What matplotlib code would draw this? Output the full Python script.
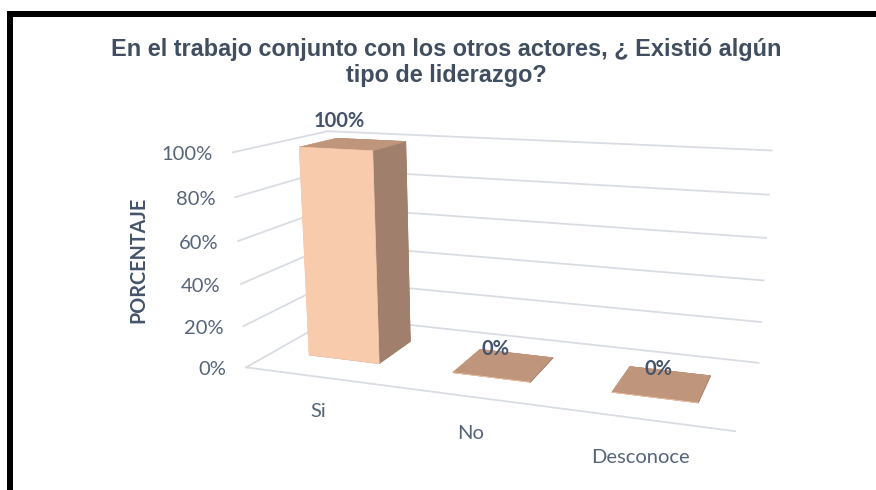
import numpy as np
import matplotlib
matplotlib.use("Agg")
import matplotlib.pyplot as plt
from matplotlib.patches import Rectangle
from mpl_toolkits.mplot3d import proj3d

# ---------------- data ----------------
categories = ["Si", "No", "Desconoce"]
values = [100, 0, 0]
value_labels = ["100%", "0%", "0%"]
y_ticks = [0, 20, 40, 60, 80, 100]
y_tick_labels = ["0%", "20%", "40%", "60%", "80%", "100%"]
title = "En el trabajo conjunto con los otros actores, ¿ Existió algún\ntipo de liderazgo?"
y_label = "PORCENTAJE"

# ---------------- style ----------------
plt.rcParams["font.family"] = ["Lato", "DejaVu Sans"]
W, H = 876, 490
c_front = "#F8CBAD"
c_top = "#BF957C"
c_side = "#A0806C"
grid_c = "#D9DDE3"
tick_c = "#56647A"
dark_c = "#44546A"

fig = plt.figure(figsize=(W / 100, H / 100), dpi=100)
fig.patch.set_facecolor("white")

# black frame (top and left edges)
fig.add_artist(Rectangle((7 / W, (H - 17) / H), (W - 7) / W, 6 / H,
                         transform=fig.transFigure, color="black", lw=0))
fig.add_artist(Rectangle((7 / W, 0), 6 / W, (H - 11) / H,
                         transform=fig.transFigure, color="black", lw=0))

fig.text(446 / W, 1 - 62.5 / H, title, ha="center", va="center",
         fontsize=16.9, fontweight="bold", color="#404E5F",
         family=["Liberation Sans", "DejaVu Sans"], linespacing=1.2)
fig.text(138.5 / W, 1 - 259.5 / H, y_label, rotation=90, ha="center",
         va="center", fontsize=14.2, fontweight="bold", color=dark_c)

# ---------------- 3D axes ----------------
n = len(categories)
depth = 1.15
ax = fig.add_axes([0, 0, 1, 1], projection="3d")
ax.view_init(elev=13.75, azim=-70.55)
ax.set_proj_type("persp", focal_length=0.345)
ax.set_xlim(0, n)
ax.set_ylim(0, depth)
ax.set_zlim(0, max(y_ticks))
ax.set_box_aspect((n, depth, 1.344))
ax.set_xticks([])
ax.set_yticks([])
ax.set_zticks([])
for axis in (ax.xaxis, ax.yaxis, ax.zaxis):
    axis.label.set_text("")
    axis.set_visible(False)
ax.set_axis_off()

for t in y_ticks:
    ax.plot([0, 0, n], [0, depth, depth], [t, t, t], color=grid_c, lw=1.3,
            zorder=1, clip_on=False)
ax.plot([0, n], [0, 0], [0, 0], color=grid_c, lw=1.3, zorder=1, clip_on=False)

bar_w, bar_d, bar_y0 = 0.5, 0.47, 0.34
xs = np.arange(n) + 0.5 - bar_w / 2
face_cols = []
for _ in values:
    face_cols += [c_top, c_top, c_front, c_side, c_front, c_side]
ax.bar3d(xs, np.full(n, bar_y0), np.zeros(n), bar_w, bar_d, values,
         color=face_cols, edgecolor=face_cols, linewidth=0.5, shade=False,
         clip_on=False)

# ---------------- fit axes placement (layout) ----------------
fig.canvas.draw()


def to_px(x, y, z):
    xs_, ys_, _ = proj3d.proj_transform(x, y, z, ax.M)
    return np.array(ax.transData.transform((xs_, ys_)))


anchors = [((0, 0, 0), (246, 367)), ((n, 0, 0), (735, 432)),
           ((0, 0, max(y_ticks)), (233, 152))]
P = np.array([to_px(*a) for a, _ in anchors])
T = np.array([(px, H - py) for _, (px, py) in anchors], dtype=float)
bb = ax.get_position()
c = np.array([(bb.x0 + bb.x1) / 2 * W, (bb.y0 + bb.y1) / 2 * H])
S = bb.width * W
Q = P - c
qm, tm = Q.mean(0), T.mean(0)
f = np.sum((Q - qm) * (T - tm)) / np.sum((Q - qm) ** 2)
c_new = tm - f * qm
S_new = f * S
ax.set_position([(c_new[0] - S_new / 2) / W, (c_new[1] - S_new / 2) / H,
                 S_new / W, S_new / H])
fig.canvas.draw()


def label_at(x, y, z, s, dx=0, dy=0, **kw):
    p = to_px(x, y, z)
    fig.text((p[0] + dx) / W, (p[1] + dy) / H, s, **kw)


# value-axis tick labels at the front-left wall edge
for t, lab in zip(y_ticks, y_tick_labels):
    label_at(0, 0, t, lab, dx=-20, dy=-2, ha="right", va="center",
             fontsize=14.5, color=tick_c)

# category labels below the floor front edge
for i, cat in enumerate(categories):
    label_at(i + 0.5, 0, -17, cat, ha="center", va="center",
             fontsize=14.5, color=tick_c)

# data labels above each bar's top-front edge
for i, (v, lab) in enumerate(zip(values, value_labels)):
    label_at(i + 0.5, bar_y0, v, lab, dx=4, dy=28, ha="center", va="center",
             fontsize=14.5, fontweight="bold", color=dark_c)

fig.savefig("out.png", dpi=100)
